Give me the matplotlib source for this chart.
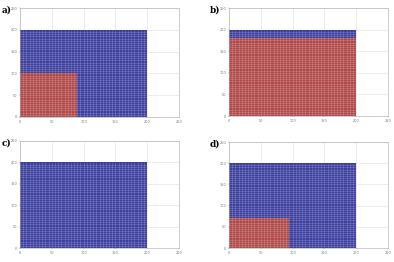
import numpy as np
import matplotlib
matplotlib.use("Agg")
import matplotlib.pyplot as plt
from matplotlib.colors import ListedColormap

# Data
panel_labels = ["a)", "b)", "c)", "d)"]
red_width = [88, 200, 200, 95]      # extent of red region along x
red_height = [100, 178, 2, 72]      # extent of red region along y
domain_size = 200
cell_size = 5
tick_values = [0, 50, 100, 150, 200, 250]

blue = "#3c3e9e"
red = "#b04848"
cmap = ListedColormap([blue, red])

fig = plt.figure(figsize=(3.94, 2.62), dpi=100)
W, H = 394, 262
boxes = [(20, 8, 179, 117), (229, 8, 388, 116), (20, 141, 179, 248), (229, 142, 388, 248)]
label_pos = [(2, 10), (210, 10), (2, 143), (210, 144)]

edges = np.arange(0, domain_size + cell_size, cell_size)
centers = edges[:-1] + cell_size / 2

for i in range(4):
    l, t, r, b = boxes[i]
    ax = fig.add_axes([l / W, 1 - b / H, (r - l) / W, (b - t) / H])
    X, Y = np.meshgrid(centers, centers)
    state = ((X < red_width[i]) & (Y < red_height[i])).astype(float)
    ax.pcolormesh(edges, edges, state, cmap=cmap, vmin=0, vmax=1,
                  edgecolors="none", antialiased=False)
    ax.vlines(edges[1:-1], 0, domain_size, colors="white", alpha=0.28, linewidth=0.4)
    ax.hlines(edges[1:-1], 0, domain_size, colors="white", alpha=0.28, linewidth=0.4)
    ax.set_xlim(0, 250)
    ax.set_ylim(0, 250)
    ax.set_xticks(tick_values)
    ax.set_yticks(tick_values)
    ax.tick_params(labelsize=2.5, length=1, width=0.3, colors="#777777", pad=1)
    ax.grid(True, color="#dddddd", linewidth=0.4)
    ax.set_axisbelow(True)
    for s in ax.spines.values():
        s.set_color("#aaaaaa")
        s.set_linewidth(0.4)
    lx, ly = label_pos[i]
    fig.text(lx / W, 1 - ly / H, panel_labels[i], fontsize=6.5, family="DejaVu Serif",
             fontweight="bold", va="center", ha="left")

fig.savefig("out.png", dpi=100)
